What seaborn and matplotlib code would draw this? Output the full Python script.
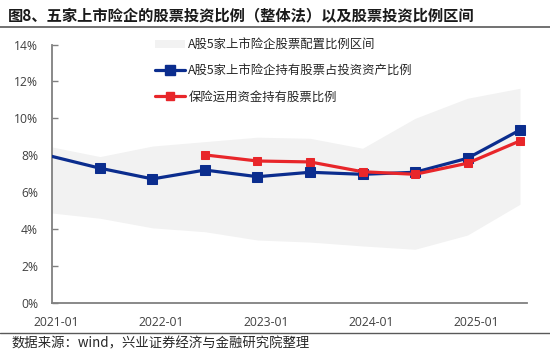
import numpy as np
import pandas as pd
import matplotlib
matplotlib.use("Agg")
import matplotlib.pyplot as plt
from matplotlib.patches import Patch
from matplotlib.lines import Line2D
import seaborn as sns

# ---- data (half-year points) ----
periods = ["2020-12", "2021-06", "2021-12", "2022-06", "2022-12",
           "2023-06", "2023-12", "2024-06", "2024-12", "2025-06"]
band_upper = [8.50, 7.93, 8.50, 8.74, 8.98, 8.92, 8.38, 10.00, 11.09, 11.63]
band_lower = [4.90, 4.59, 4.07, 3.86, 3.41, 3.30, 3.09, 2.91, 3.68, 5.35]
listed_ratio = [8.00, 7.30, 6.72, 7.20, 6.84, 7.08, 6.97, 7.08, 7.84, 9.37]
industry_ratio = [np.nan, np.nan, np.nan, 8.02, 7.69, 7.64, 7.11, 6.97, 7.57, 8.78]
xtick_labels = ["2021-01", "2022-01", "2023-01", "2024-01", "2025-01"]
ytick_values = [0, 2, 4, 6, 8, 10, 12, 14]

name_band = "A股5家上市险企股票配置比例区间"
name_blue = "A股5家上市险企持有股票占投资资产比例"
name_red = "保险运用资金持有股票比例"
title = "图8、五家上市险企的股票投资比例（整体法）以及股票投资比例区间"
source = "数据来源：wind，兴业证券经济与金融研究院整理"

sns.set_theme(style="white")
plt.rcParams["font.family"] = ["Noto Sans CJK SC", "DejaVu Sans"]

BLUE = "#0b2d8e"
RED = "#e8262a"
BAND = "#f2f2f2"
GRAY = "#808080"

idx = np.arange(len(periods))
df = pd.DataFrame({"idx": idx, "period": periods,
                   "blue": listed_ratio, "red": industry_ratio})

fig = plt.figure(figsize=(5.5, 3.53), dpi=100)
W, H = 550, 353
ax = fig.add_axes([52 / W, 1 - 303 / H, (527 - 52) / W, (303 - 44.5) / H])

ax.fill_between(idx, band_lower, band_upper, color=BAND, linewidth=0, zorder=1)

sns.lineplot(data=df, x="idx", y="blue", ax=ax, color=BLUE, linewidth=2.3,
             marker="s", markersize=7.2, markeredgecolor=BLUE, zorder=3,
             markevery=list(range(1, len(periods))))
sns.lineplot(data=df.dropna(subset=["red"]), x="idx", y="red", ax=ax, color=RED,
             linewidth=2.3, marker="s", markersize=5.2, markeredgecolor=RED, zorder=4)

ax.set_xlim(0.086, 9.133)
ax.set_ylim(0, 14)
ax.set_xlabel("")
ax.set_ylabel("")

ax.set_yticks(ytick_values)
ax.set_yticklabels([f"{v}%" for v in ytick_values])
ax.set_xticks([i + 0.16 for i in (0, 2, 4, 6, 8)])
ax.set_xticklabels(xtick_labels)

for s in ["top", "right"]:
    ax.spines[s].set_visible(False)
for s in ["left", "bottom"]:
    ax.spines[s].set_color(GRAY)
    ax.spines[s].set_linewidth(1.3)
ax.tick_params(axis="y", direction="in", length=4, width=1, color=GRAY,
               labelsize=8.7, labelcolor="#404040", pad=10, left=True)
ax.tick_params(axis="x", length=0, labelsize=8.7, labelcolor="#404040", pad=9)
for t in ax.get_yticklabels() + ax.get_xticklabels():
    t.set_family(["Open Sans", "DejaVu Sans"])
ax.grid(False)

handles = [Patch(facecolor=BAND, edgecolor="none"),
           Line2D([], [], color=BLUE, linewidth=2.3, marker="s", markersize=7.2),
           Line2D([], [], color=RED, linewidth=2.3, marker="s", markersize=5.2)]
leg = fig.legend(handles, [name_band, name_blue, name_red],
                 loc="upper left", bbox_to_anchor=(155 / W, 1 - 38.5 / H),
                 frameon=False, fontsize=8.9, handlelength=2.4,
                 handleheight=0.6, handletextpad=0.3, labelspacing=1.05,
                 borderpad=0, borderaxespad=0)
for t in leg.get_texts():
    t.set_color("#262626")

fig.text(8 / W, 1 - 15 / H, title, fontsize=11, fontweight="bold",
         color="#1a1a1a", va="center", ha="left")
fig.add_artist(Line2D([0, 1], [1 - 27 / H, 1 - 27 / H], color="#595959",
                      linewidth=1.2, transform=fig.transFigure))
fig.add_artist(Line2D([0, 1], [1 - 333 / H, 1 - 333 / H], color="#595959",
                      linewidth=1.0, transform=fig.transFigure))
fig.text(12 / W, 1 - 343.5 / H, source, fontsize=9.6, color="#262626",
         va="center", ha="left")

fig.savefig("out.png", dpi=100)
